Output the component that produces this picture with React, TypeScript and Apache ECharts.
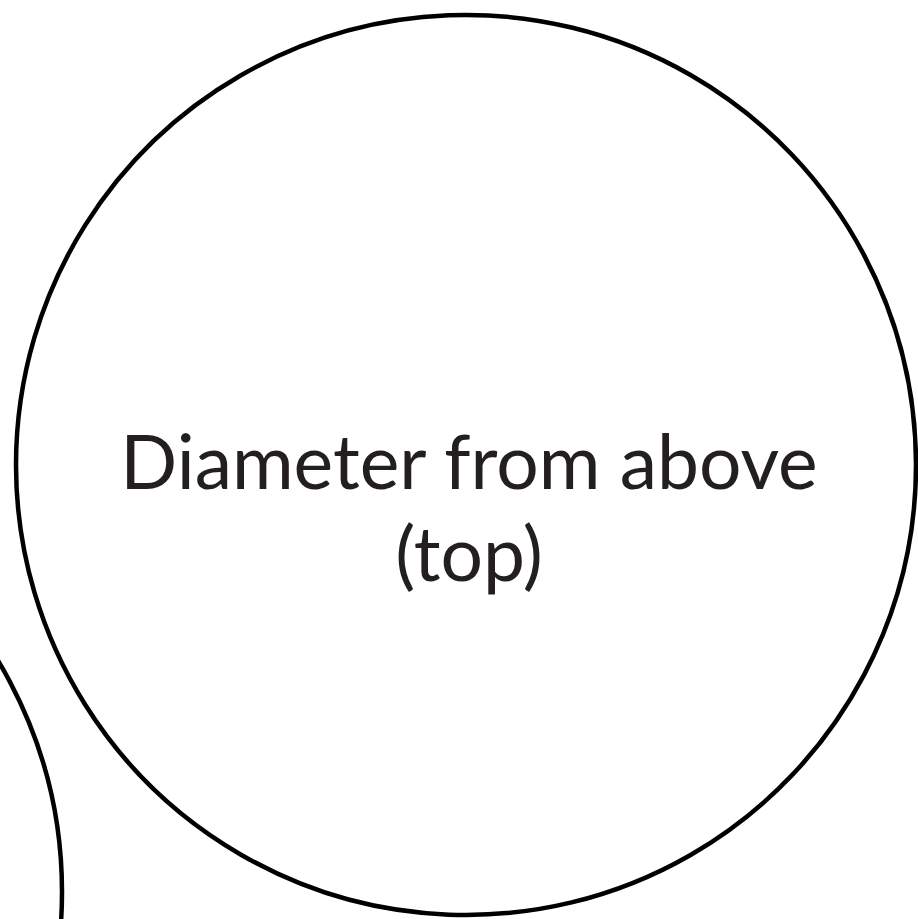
import React, { useEffect, useRef } from "react";
import * as echarts from "echarts";

const labelLines = ["Diameter from above", "(top)"];
const circleRadius = 450;
const mainCircle = { cx: 466, cy: 465 };
const neighbourCircle = { cx: -388, cy: 892 };
const inkColor = "#231f20";

export default function App() {
  const ref = useRef<HTMLDivElement>(null);
  useEffect(() => {
    document.body.style.margin = "0";
    if (!ref.current) return;
    const chart = echarts.init(ref.current, null, { renderer: "svg" });
    const fontSize = 75;
    chart.setOption({
      animation: false,
      backgroundColor: "#ffffff",
      graphic: [
        {
          type: "circle",
          shape: { cx: mainCircle.cx, cy: mainCircle.cy, r: circleRadius },
          style: { fill: "none", stroke: "#000000", lineWidth: 4.5 },
        },
        {
          type: "circle",
          shape: { cx: neighbourCircle.cx, cy: neighbourCircle.cy, r: circleRadius },
          style: { fill: "none", stroke: "#000000", lineWidth: 4.5 },
        },
        {
          type: "text",
          x: 469,
          y: 506,
          style: {
            text: labelLines.join("\n"),
            fill: inkColor,
            font: `${fontSize}px Lato`,
            lineHeight: 92,
            align: "center",
            verticalAlign: "middle",
          },
        },
      ],
    });
    return () => chart.dispose();
  }, []);
  return <div ref={ref} style={{ width: 918, height: 919 }} />;
}
